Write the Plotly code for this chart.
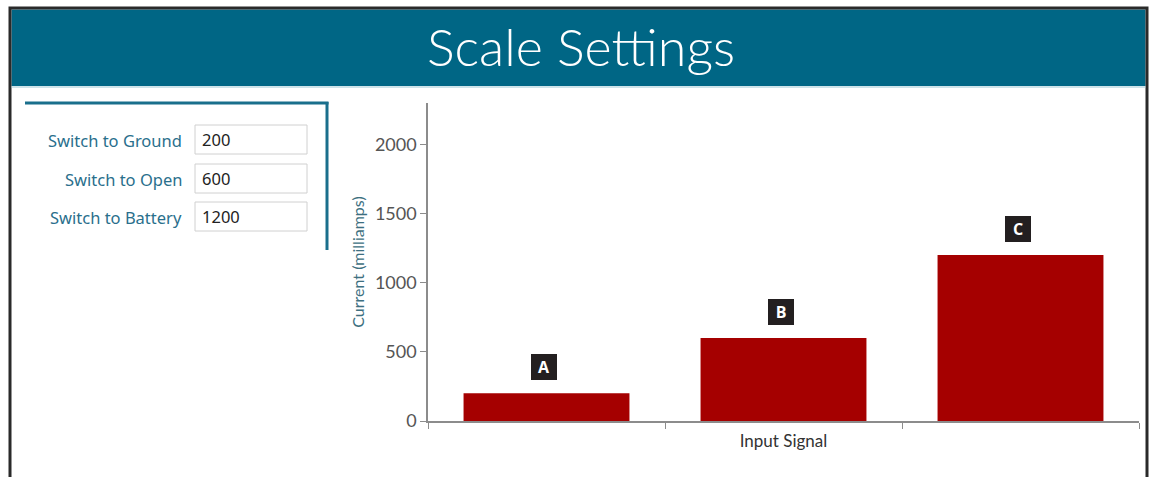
import plotly.graph_objects as go

categories = ["A", "B", "C"]
currents = [200, 600, 1200]
switch_labels = ["Switch to Ground", "Switch to Open", "Switch to Battery"]
switch_values = ["200", "600", "1200"]
y_ticks = [0, 500, 1000, 1500, 2000]

W, H = 1149, 477
L, R, T, B = 428, 10, 103, 56
PW, PH = W - L - R, H - T - B


def px(x):
    return (x - L) / PW


def py(y):
    return (H - B - y) / PH


TEAL = "#006685"
fig = go.Figure()
fig.add_trace(go.Bar(x=categories, y=currents, marker=dict(color="#a50000", line=dict(width=0)),
                     width=0.7, hoverinfo="skip"))

shapes = []
# outer frame
shapes.append(dict(type="rect", xref="paper", yref="paper", x0=px(10), x1=px(1147), y0=py(480), y1=py(8),
                   line=dict(color="#2a2a2a", width=3), fillcolor="rgba(0,0,0,0)", layer="above"))
# header
shapes.append(dict(type="rect", xref="paper", yref="paper", x0=px(11.5), x1=px(1145.5), y0=py(86), y1=py(9.5),
                   line=dict(width=0), fillcolor=TEAL, layer="below"))
shapes.append(dict(type="line", xref="paper", yref="paper", x0=px(11.5), x1=px(1145.5), y0=py(87), y1=py(87),
                   line=dict(color="#9cc7d4", width=1)))
# left panel lines
shapes.append(dict(type="line", xref="paper", yref="paper", x0=px(25), x1=px(328.5), y0=py(103), y1=py(103),
                   line=dict(color="#1a6f8c", width=3)))
shapes.append(dict(type="line", xref="paper", yref="paper", x0=px(327), x1=px(327), y0=py(102), y1=py(250),
                   line=dict(color="#1a6f8c", width=3)))

annotations = []
box_tops = [125, 164, 202]
for lbl, val, top in zip(switch_labels, switch_values, box_tops):
    shapes.append(dict(type="rect", xref="paper", yref="paper", x0=px(195), x1=px(307), y0=py(top + 29), y1=py(top),
                       line=dict(color="#d0d0d0", width=1), fillcolor="white"))
    annotations.append(dict(xref="paper", yref="paper", x=px(184), y=py(top + 15), text=lbl, showarrow=False,
                            xanchor="right", yanchor="middle",
                            font=dict(family="Noto Sans", size=16.5, color="#2a6f8c")))
    annotations.append(dict(xref="paper", yref="paper", x=px(200), y=py(top + 14), text=val, showarrow=False,
                            xanchor="left", yanchor="middle",
                            font=dict(family="Noto Sans", size=16.5, color="#222222")))

# title
annotations.append(dict(xref="paper", yref="paper", x=px(581), y=py(46), text="Scale Settings", showarrow=False,
                        xanchor="center", yanchor="middle",
                        font=dict(family="Lato", size=52, color="white", weight=300)))

# bar letter badges
for c, v in zip(categories, currents):
    annotations.append(dict(x=c, y=v, xref="x", yref="y", text="<b>%s</b>" % c, showarrow=False,
                            yanchor="middle", yshift=26, xshift=-3, width=20, height=20,
                            bgcolor="#231f20", borderpad=2, bordercolor="#231f20",
                            font=dict(family="Open Sans", size=16, color="white")))

fig.update_layout(
    width=W, height=H,
    margin=dict(l=L, r=R, t=T, b=B, pad=0),
    paper_bgcolor="white", plot_bgcolor="white",
    showlegend=False,
    shapes=shapes, annotations=annotations,
    bargap=0.3,
    xaxis=dict(showgrid=False, showline=True, linecolor="#8c8c8c", linewidth=1.5,
               ticks="outside", tickson="boundaries", ticklen=6, tickcolor="#8c8c8c",
               showticklabels=False, zeroline=False,
               title=dict(text="Input Signal", standoff=13,
                          font=dict(family="Lato", size=17, color="#333333"))),
    yaxis=dict(range=[0, 2300], tickvals=y_ticks, showgrid=False, showline=True, linecolor="#8c8c8c",
               linewidth=1.5, ticks="outside", ticklen=6, tickcolor="#8c8c8c", zeroline=False,
               tickfont=dict(family="Lato", size=18, color="#555555"),
               title=dict(text="Current (milliamps)", standoff=6,
                          font=dict(family="Lato", size=16, color="#3d6f80"))),
)

fig.write_html("out.html")
